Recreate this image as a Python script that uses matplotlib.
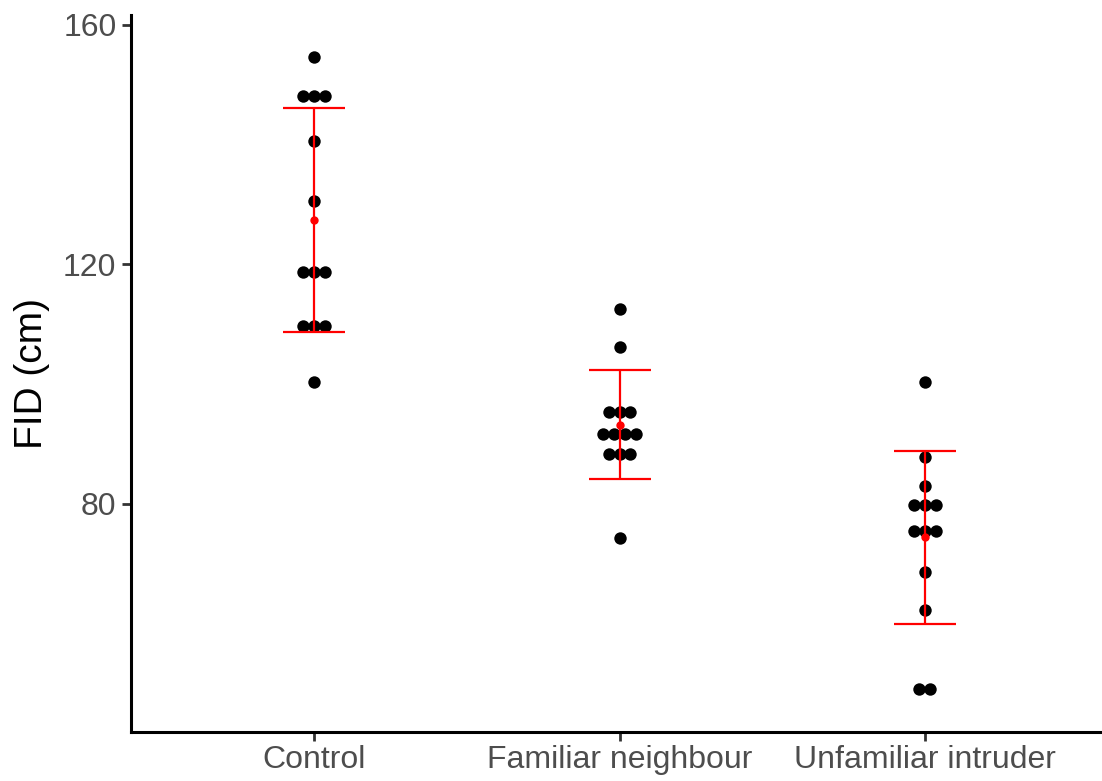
import matplotlib
matplotlib.use("Agg")
import matplotlib.pyplot as plt
import numpy as np

plt.rcParams["font.family"] = ["Liberation Sans", "DejaVu Sans"]

# Data
groups = ["Control", "Familiar neighbour", "Unfamiliar intruder"]
control = [154.6, 148.1, 148.1, 148.1, 140.5, 130.6,
           118.7, 118.7, 118.7, 109.6, 109.6, 109.6, 100.3]
familiar = [112.6, 106.2, 95.4, 95.4, 95.4, 91.6, 91.6, 91.6, 91.6,
            88.3, 88.3, 88.3, 74.3]
unfamiliar = [100.3, 87.8, 82.9, 79.75, 79.75, 79.75, 75.4, 75.4, 75.4,
              68.6, 62.3, 49.1, 49.1]
means = [127.3, 93.2, 74.4]
err_lo = [108.6, 84.1, 60.0]
err_hi = [146.0, 102.4, 88.8]

fig = plt.figure(figsize=(11.02, 7.81), dpi=100)
ax = fig.add_axes([131 / 1102, 49 / 781, (1108 - 131) / 1102, (731.7 - 15) / 781])

# dotplot style: stack equal values centred on the category
spacing = 0.0357
for i, vals in enumerate([control, familiar, unfamiliar]):
    xpos = i + 1
    uniq = sorted(set(vals))
    for v in uniq:
        n = vals.count(v)
        offs = (np.arange(n) - (n - 1) / 2) * spacing
        ax.scatter(xpos + offs, [v] * n, s=80, color="black", linewidths=0, zorder=2)

xs = np.arange(1, len(groups) + 1)
means_a = np.array(means)
yerr = [means_a - np.array(err_lo), np.array(err_hi) - means_a]
ax.errorbar(xs, means_a, yerr=yerr, fmt="none", ecolor="#FF0000",
            elinewidth=1.6, capsize=22, capthick=1.6, zorder=3)
ax.scatter(xs, means_a, s=36, color="#FF0000", linewidths=0, zorder=4)

ax.set_xlim(0.4, 3.6)
ax.set_ylim(41.9, 161.55)
ax.set_xticks(xs)
ax.set_xticklabels(groups)
ax.set_yticks([80, 120, 160])

for side in ["top", "right"]:
    ax.spines[side].set_visible(False)
for side in ["left", "bottom"]:
    ax.spines[side].set_linewidth(2.2)
    ax.spines[side].set_color("black")

ax.tick_params(axis="both", length=6.5, width=2.0, color="#333333",
               labelcolor="#4D4D4D", labelsize=23)
ax.tick_params(axis="x", pad=3)
ax.tick_params(axis="y", pad=4)

ax.set_ylabel("FID (cm)", fontsize=28, color="black")
ax.yaxis.set_label_coords(-0.083, 0.5)

fig.savefig("out.png", dpi=100)
